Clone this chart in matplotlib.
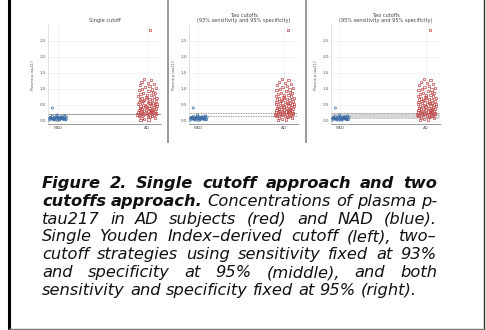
import matplotlib
matplotlib.use("Agg")
import matplotlib.pyplot as plt
from matplotlib.lines import Line2D

# values (pg/mL), same data in all three panels
nad_vals = [0.05, 0.08, 0.03, 0.10, 0.12, 0.06, 0.04, 0.09, 0.14, 0.07, 0.02, 0.11,
            0.05, 0.13, 0.08, 0.06, 0.10, 0.03, 0.07, 0.15, 0.09, 0.04, 0.12, 0.06,
            0.08, 0.05, 0.11, 0.02, 0.07, 0.10, 0.13, 0.06, 0.09, 0.04, 0.08, 0.18,
            0.05, 0.12, 0.07, 0.03, 0.10, 0.06, 0.09, 0.40]
nad_jit = [-0.08, -0.05, -0.02, 0.01, 0.04, 0.07, 0.09, -0.09, -0.06, -0.03, 0.00, 0.03,
           0.06, 0.08, -0.07, -0.04, -0.01, 0.02, 0.05, 0.08, -0.08, -0.05, -0.02, 0.01,
           0.04, 0.07, 0.10, -0.10, -0.06, -0.03, 0.00, 0.03, 0.06, 0.09, -0.07, -0.01,
           0.02, 0.05, 0.08, -0.04, -0.08, 0.01, 0.06, -0.06]
ad_vals = [2.85, 1.30, 1.27, 1.22, 1.18, 1.15, 1.12, 1.10, 1.06, 1.03, 1.00, 0.98,
           0.96, 0.93, 0.90, 0.88, 0.86, 0.84, 0.82, 0.80, 0.78, 0.76, 0.74, 0.72,
           0.70, 0.69, 0.67, 0.65, 0.64, 0.62, 0.60, 0.59, 0.57, 0.56, 0.54, 0.53,
           0.51, 0.50, 0.48, 0.47, 0.46, 0.44, 0.43, 0.42, 0.40, 0.39, 0.38, 0.36,
           0.35, 0.34, 0.33, 0.32, 0.31, 0.30, 0.29, 0.28, 0.27, 0.26, 0.25, 0.24,
           0.23, 0.22, 0.21, 0.20, 0.19, 0.18, 0.17, 0.16, 0.15, 0.14, 0.12, 0.10,
           0.08, 0.06, 0.04, 0.02, 0.45, 0.55, 0.37, 0.29, 0.63, 0.25, 0.33, 0.71,
           0.20, 0.41, 0.52, 0.27]
ad_jit = [0.04, -0.03, 0.05, -0.06, 0.01, 0.08, -0.08, 0.03, -0.02, 0.10, -0.05, 0.06,
          -0.09, 0.02, 0.07, -0.04, 0.09, -0.07, 0.00, 0.05, -0.10, 0.08, -0.01, 0.11,
          -0.06, 0.03, -0.08, 0.06, -0.03, 0.10, -0.09, 0.01, 0.07, -0.05, 0.04, -0.10,
          0.09, -0.02, 0.05, -0.07, 0.11, 0.00, -0.04, 0.08, -0.08, 0.03, 0.10, -0.06,
          0.06, -0.01, -0.09, 0.04, 0.09, -0.03, 0.02, -0.07, 0.07, -0.10, 0.00, 0.05,
          -0.05, 0.10, -0.02, 0.03, -0.08, 0.08, -0.04, 0.06, 0.01, -0.09, 0.04, -0.06,
          0.09, -0.03, 0.02, -0.07, -0.01, 0.03, 0.07, -0.06, -0.04, 0.10, 0.05, 0.00,
          -0.11, -0.08, 0.11, 0.06]
categories = ["NAD", "AD"]
yticks = [0.0, 0.5, 1.0, 1.5, 2.0, 2.5]

titles = ["Single cutoff",
          "Two cutoffs\n(93% sensitivity and 95% specificity)",
          "Two cutoffs\n(95% sensitivity and 95% specificity)"]
cutoffs = [[0.22], [0.165, 0.24], [0.10, 0.23]]

caption = [
    [("Figure 2. Single cutoff approach and two", "bold")],
    [("cutoffs approach.", "bold"), ("Concentrations of plasma p-", "normal")],
    [("tau217 in AD subjects (red) and NAD (blue).", "normal")],
    [("Single Youden Index\u2013derived cutoff (left), two\u2013", "normal")],
    [("cutoff strategies using sensitivity fixed at 93%", "normal")],
    [("and specificity at 95% (middle), and both", "normal")],
    [("sensitivity and specificity fixed at 95% (right).", "normal")],
]

W, H = 486, 330
fig = plt.figure(figsize=(W / 100, H / 100), dpi=100)
fig.patch.set_facecolor("white")

blue = "#3f6fa6"
red = "#c24a4a"

# panel boxes in pixels: left, width (top/bottom shared)
panels = [(48, 113), (189, 109), (331, 109)]
top_px, bot_px = 25, 124
for i, (lp, wp) in enumerate(panels):
    ax = fig.add_axes([lp / W, 1 - bot_px / H, wp / W, (bot_px - top_px) / H])
    ax.set_xlim(-0.11, 1.16)
    ax.set_ylim(-0.1, 3.0)
    ax.set_xticks([0, 1])
    ax.set_xticklabels(categories)
    ax.set_yticks(yticks)
    ax.set_yticklabels([f"{v:.1f}" for v in yticks])
    ax.grid(True, color="#ececec", lw=0.4)
    ax.set_axisbelow(True)
    for s in ["top", "right"]:
        ax.spines[s].set_visible(False)
    ax.spines["left"].set_color("#d8d8d8")
    ax.spines["left"].set_linewidth(0.5)
    ax.spines["bottom"].set_color("#9a9a9a")
    ax.spines["bottom"].set_linewidth(0.7)
    ax.tick_params(length=0, labelsize=3, labelcolor="#555555", pad=1.5)
    ax.set_ylabel("Plasma p-tau217", fontsize=2.5, color="#555555", labelpad=3)
    ax.set_title(titles[i], fontsize=3.6, color="#444444", pad=2, linespacing=1.1)

    if i == 0:
        ax.axhline(cutoffs[0][0], color="#9a9a9a", lw=0.7, zorder=1)
    elif i == 1:
        for c in cutoffs[1]:
            ax.axhline(c, color="#777777", lw=0.6, ls=(0, (1, 1)), zorder=1)
    else:
        ax.axhspan(cutoffs[2][0], cutoffs[2][1], color="#d6d6d6", zorder=1, lw=0)
        for c in cutoffs[2]:
            ax.axhline(c, color="#888888", lw=0.5, ls=(0, (1, 1)), zorder=1)

    ax.scatter([0 + j for j in nad_jit], nad_vals, s=2.5, marker="o",
               facecolors="none", edgecolors=blue, linewidths=0.5, zorder=3)
    ax.scatter([1 + j for j in ad_jit], ad_vals, s=2.5, marker="s",
               facecolors="none", edgecolors=red, linewidths=0.5, zorder=3)

# panel separators and outer frame
def vline(x, y0, y1, **kw):
    fig.add_artist(Line2D([x / W, x / W], [1 - y0 / H, 1 - y1 / H],
                          transform=fig.transFigure, **kw))

vline(168, 0, 142, color="#9a9a9a", lw=1.4)
vline(306, 0, 142, color="#9a9a9a", lw=1.4)
vline(9, 0, 329, color="black", lw=2.2)
vline(483.5, 0, 329, color="#333333", lw=1.0)
fig.add_artist(Line2D([9 / W, 484 / W], [1 - 328.5 / H, 1 - 328.5 / H],
                      transform=fig.transFigure, color="#777777", lw=1.0))

# justified caption
fam = "DejaVu Sans"
x0, x1 = 42, 437
base0, step = 188, 17.8
fs = 11.7
renderer = fig.canvas.get_renderer()

def word_width(word, weight):
    t = fig.text(0, 0, word, fontsize=fs, family=fam, style="italic", weight=weight)
    w = t.get_window_extent(renderer).width
    t.remove()
    return w

for li, parts in enumerate(caption):
    words = []
    for txt, weight in parts:
        for wd in txt.split(" "):
            words.append((wd, weight))
    widths = [word_width(wd, wt) for wd, wt in words]
    y = 1 - (base0 + li * step) / H
    last = li == len(caption) - 1
    if last or len(words) == 1:
        gap = word_width("a a", "normal") - 2 * word_width("a", "normal")
    else:
        gap = (x1 - x0 - sum(widths)) / (len(words) - 1)
    x = x0
    for (wd, wt), w in zip(words, widths):
        fig.text(x / W, y, wd, fontsize=fs, family=fam, style="italic",
                 weight=wt, va="baseline", ha="left", color="#111111")
        x += w + gap

fig.savefig("out.png", dpi=100, facecolor="white")
